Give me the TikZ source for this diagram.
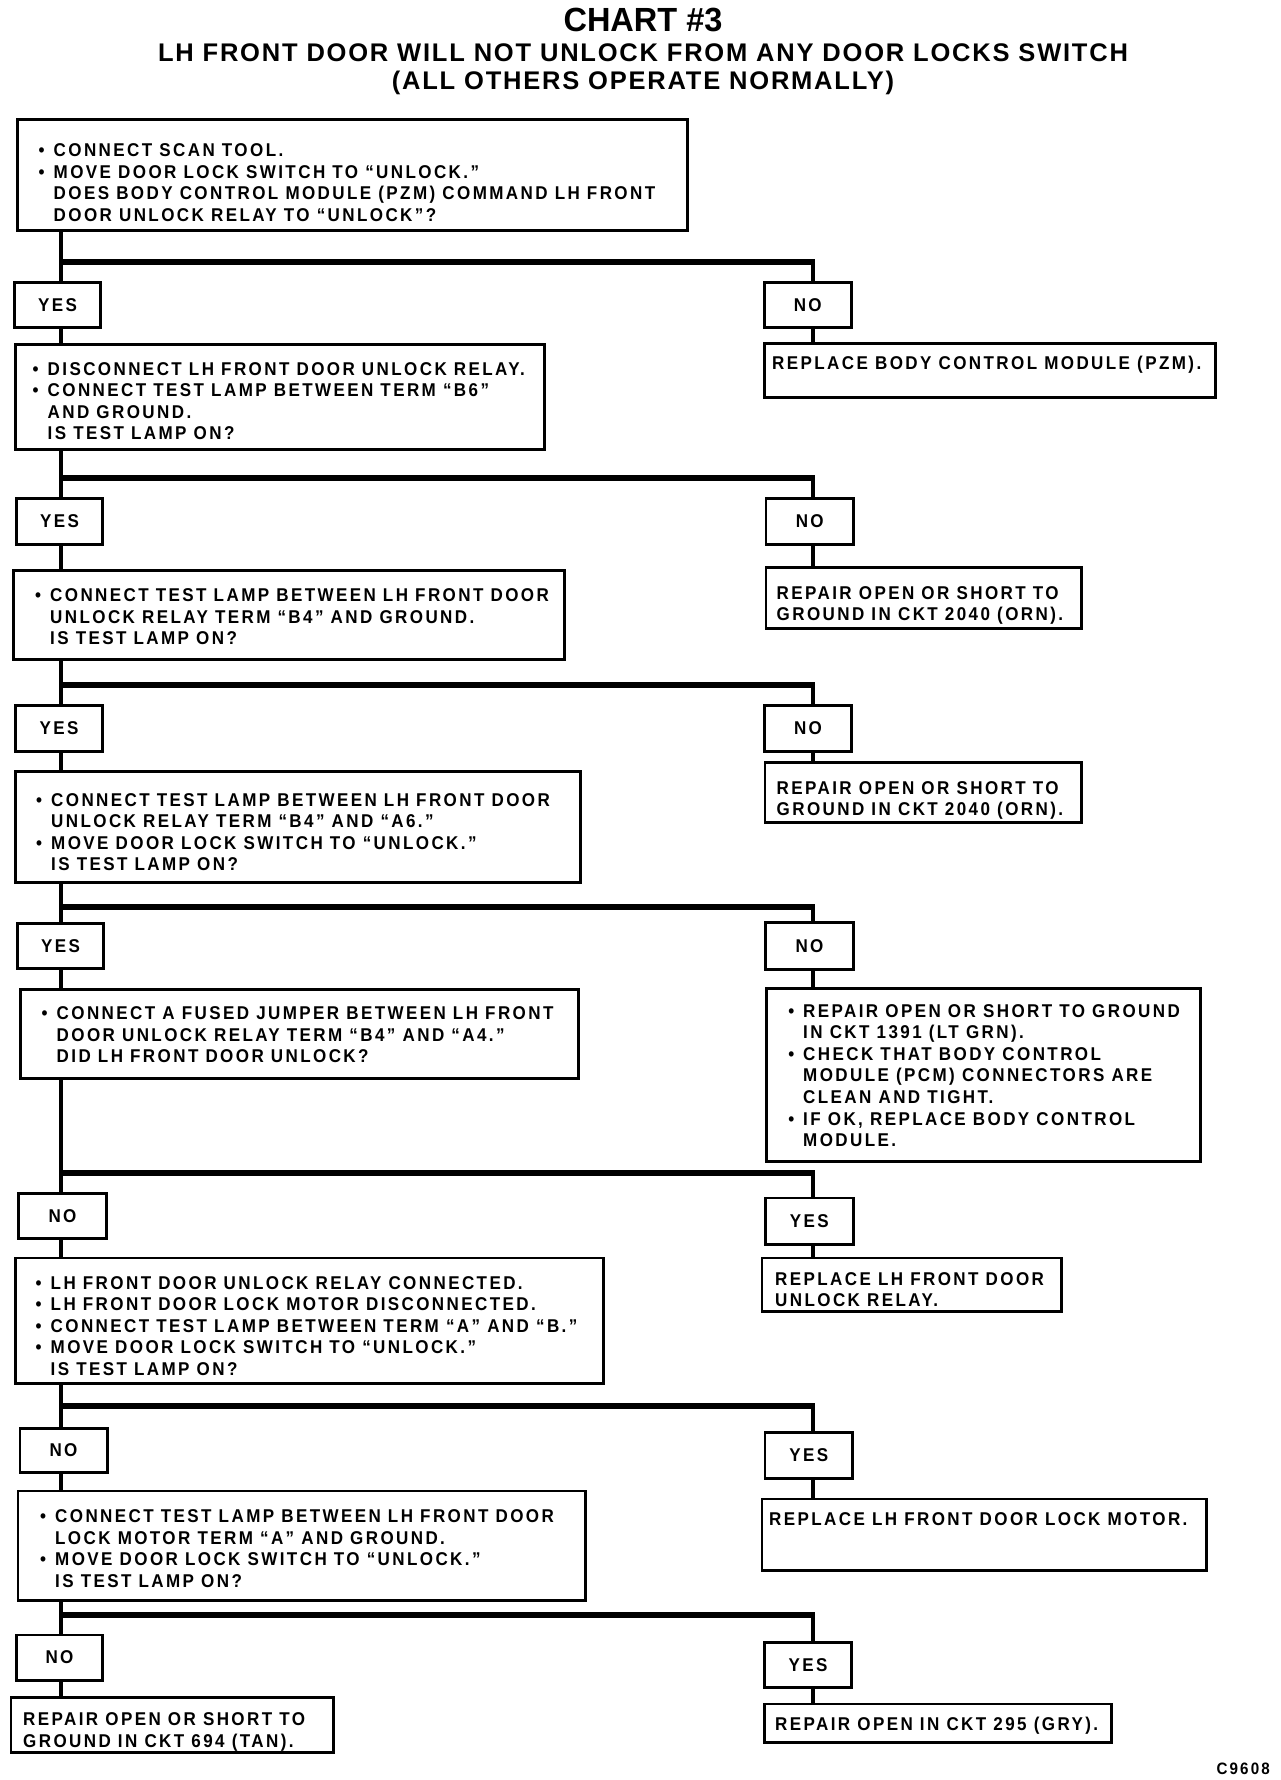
\documentclass[tikz,border=0pt]{standalone}
\usepackage{fontspec}
\setmainfont{Liberation Sans}
\newfontfamily\boxfont{Liberation Sans}[FakeStretch=0.92,LetterSpace=13]
\newfontfamily\subfont{Liberation Sans}[LetterSpace=7]
\newfontfamily\chartfont{Liberation Sans}[FakeStretch=0.97]
\usetikzlibrary{fit}
\newcommand\tx[1]{\begin{tabular}[t]{@{}l@{}}#1\end{tabular}}
\newcommand\bu{\llap{•\hspace{9pt}}}
\begin{document}
\begin{tikzpicture}[x=1pt,y=-1pt,
  boxst/.style={draw, line width=2.6pt, inner sep=-1.3pt, rectangle},
  txt/.style={inner sep=0pt, anchor=base west, font={\boxfont\bfseries\fontsize{18.5}{21.6}\selectfont}},
  lbl/.style={inner sep=0pt, font={\boxfont\bfseries\fontsize{18.5}{21.6}\selectfont}},
  conn/.style={line width=3.5pt},
  barst/.style={line width=6pt}]
\useasboundingbox (0,0) rectangle (1280,1780);
\fill[white] (0,0) rectangle (1280,1780);

% titles
\node[anchor=base, inner sep=0pt, font={\chartfont\bfseries\fontsize{33.5}{40}\selectfont}] (title) at (643,31) {CHART \#3};
\node[anchor=base, inner sep=0pt, font={\subfont\bfseries\fontsize{25.5}{30}\selectfont}] (sub1) at (643,61.5) {LH FRONT DOOR WILL NOT UNLOCK FROM ANY DOOR LOCKS SWITCH};
\node[anchor=base, inner sep=0pt, font={\subfont\bfseries\fontsize{25.5}{30}\selectfont}] (sub2) at (643,89.5) {(ALL OTHERS OPERATE NORMALLY)};

% trunk coordinates
\coordinate (tl) at (61,0);
\coordinate (tr) at (813,0);

% boxes
\node[boxst, fit={(15.9,118) (688.8,231.5)}] (q1) {};
\node[boxst, fit={(13,281) (102,329)}] (L1) {};
\node[boxst, fit={(763,281) (852.5,329)}] (R1) {};
\node[boxst, fit={(14,343) (545.5,451)}] (q2) {};
\node[boxst, fit={(763,342) (1217,399)}] (A1) {};

\node[boxst, fit={(15,497) (104,546)}] (L2) {};
\node[boxst, fit={(764.5,497) (855,546)}] (R2) {};
\node[boxst, fit={(12,569) (565.5,661)}] (q3) {};
\node[boxst, fit={(764.5,566) (1083,630)}] (A2) {};

\node[boxst, fit={(14,704) (104,752.5)}] (L3) {};
\node[boxst, fit={(763,704) (853,752.5)}] (R3) {};
\node[boxst, fit={(14,770) (582,884)}] (q4) {};
\node[boxst, fit={(763.5,761) (1083,824)}] (A3) {};

\node[boxst, fit={(16,922) (105,970)}] (L4) {};
\node[boxst, fit={(764,921) (855,971)}] (R4) {};
\node[boxst, fit={(19,988) (580,1080)}] (q5) {};
\node[boxst, fit={(765,987) (1202,1163)}] (A4) {};

\node[boxst, fit={(17,1192) (108,1240)}] (L5) {};
\node[boxst, fit={(764,1196.5) (854.5,1246)}] (R5) {};
\node[boxst, fit={(14,1256.5) (605,1385)}] (q6) {};
\node[boxst, fit={(760.5,1256.5) (1063,1312.5)}] (A5) {};

\node[boxst, fit={(18.5,1427) (108.5,1474)}] (L6) {};
\node[boxst, fit={(763.5,1431) (854,1480)}] (R6) {};
\node[boxst, fit={(16.5,1489.5) (586.5,1602)}] (q7) {};
\node[boxst, fit={(760.5,1497.5) (1208,1571.5)}] (A6) {};

\node[boxst, fit={(15,1633.5) (104,1681.5)}] (L7) {};
\node[boxst, fit={(763,1641) (853,1689)}] (R7) {};
\node[boxst, fit={(9.5,1696) (334.5,1754)}] (F) {};
\node[boxst, fit={(763,1702.5) (1113,1744)}] (A7) {};

% labels
\node[lbl] (L1t) at (L1.center) {YES};
\node[lbl] (R1t) at (R1.center) {NO};
\node[lbl] (L2t) at (L2.center) {YES};
\node[lbl] (R2t) at (R2.center) {NO};
\node[lbl] (L3t) at (L3.center) {YES};
\node[lbl] (R3t) at (R3.center) {NO};
\node[lbl] (L4t) at (L4.center) {YES};
\node[lbl] (R4t) at (R4.center) {NO};
\node[lbl] (L5t) at (L5.center) {NO};
\node[lbl] (R5t) at (R5.center) {YES};
\node[lbl] (L6t) at (L6.center) {NO};
\node[lbl] (R6t) at (R6.center) {YES};
\node[lbl] (L7t) at (L7.center) {NO};
\node[lbl] (R7t) at (R7.center) {YES};

% texts
\node[txt] (q1t) at (53.5,156.5) {\tx{\bu CONNECT SCAN TOOL.\\ \bu MOVE DOOR LOCK SWITCH TO “UNLOCK.”\\ DOES BODY CONTROL MODULE (PZM) COMMAND LH FRONT\\ DOOR UNLOCK RELAY TO “UNLOCK”?}};
\node[txt] (q2t) at (47.5,375) {\tx{\bu DISCONNECT LH FRONT DOOR UNLOCK RELAY.\\ \bu CONNECT TEST LAMP BETWEEN TERM “B6”\\ AND GROUND.\\ IS TEST LAMP ON?}};
\node[txt] (A1t) at (772,369) {\tx{REPLACE BODY CONTROL MODULE (PZM).}};
\node[txt] (q3t) at (50,601.5) {\tx{\bu CONNECT TEST LAMP BETWEEN LH FRONT DOOR\\ UNLOCK RELAY TERM “B4” AND GROUND.\\ IS TEST LAMP ON?}};
\node[txt] (A2t) at (776.5,599) {\tx{REPAIR OPEN OR SHORT TO\\ GROUND IN CKT 2040 (ORN).}};
\node[txt] (q4t) at (51,806) {\tx{\bu CONNECT TEST LAMP BETWEEN LH FRONT DOOR\\ UNLOCK RELAY TERM “B4” AND “A6.”\\ \bu MOVE DOOR LOCK SWITCH TO “UNLOCK.”\\ IS TEST LAMP ON?}};
\node[txt] (A3t) at (776.5,794) {\tx{REPAIR OPEN OR SHORT TO\\ GROUND IN CKT 2040 (ORN).}};
\node[txt] (q5t) at (56.5,1019.5) {\tx{\bu CONNECT A FUSED JUMPER BETWEEN LH FRONT\\ DOOR UNLOCK RELAY TERM “B4” AND “A4.”\\ DID LH FRONT DOOR UNLOCK?}};
\node[txt] (A4t) at (803,1017) {\tx{\bu REPAIR OPEN OR SHORT TO GROUND\\ IN CKT 1391 (LT GRN).\\ \bu CHECK THAT BODY CONTROL\\ MODULE (PCM) CONNECTORS ARE\\ CLEAN AND TIGHT.\\ \bu IF OK, REPLACE BODY CONTROL\\ MODULE.}};
\node[txt] (q6t) at (50.5,1289) {\tx{\bu LH FRONT DOOR UNLOCK RELAY CONNECTED.\\ \bu LH FRONT DOOR LOCK MOTOR DISCONNECTED.\\ \bu CONNECT TEST LAMP BETWEEN TERM “A” AND “B.”\\ \bu MOVE DOOR LOCK SWITCH TO “UNLOCK.”\\ IS TEST LAMP ON?}};
\node[txt] (A5t) at (775,1285) {\tx{REPLACE LH FRONT DOOR\\ UNLOCK RELAY.}};
\node[txt] (q7t) at (55,1522.5) {\tx{\bu CONNECT TEST LAMP BETWEEN LH FRONT DOOR\\ LOCK MOTOR TERM “A” AND GROUND.\\ \bu MOVE DOOR LOCK SWITCH TO “UNLOCK.”\\ IS TEST LAMP ON?}};
\node[txt] (A6t) at (769,1525) {\tx{REPLACE LH FRONT DOOR LOCK MOTOR.}};
\node[txt] (Ft) at (23,1725.5) {\tx{REPAIR OPEN OR SHORT TO\\ GROUND IN CKT 694 (TAN).}};
\node[txt] (A7t) at (775,1730) {\tx{REPAIR OPEN IN CKT 295 (GRY).}};

\node[anchor=base east, inner sep=0pt, font={\boxfont\bfseries\fontsize{16.5}{18}\selectfont}] (code) at (1270,1774) {C9608};

% bar coordinates
\coordinate (b1l) at (59.25,261.5);  \coordinate (b1r) at (814.75,261.5);
\coordinate (b2l) at (59.25,477.5);  \coordinate (b2r) at (814.75,477.5);
\coordinate (b3l) at (59.25,685);    \coordinate (b3r) at (814.75,685);
\coordinate (b4l) at (59.25,907);    \coordinate (b4r) at (814.75,907);
\coordinate (b5l) at (59.25,1173);   \coordinate (b5r) at (814.75,1173);
\coordinate (b6l) at (59.25,1405.5); \coordinate (b6r) at (814.75,1405.5);
\coordinate (b7l) at (59.25,1615);   \coordinate (b7r) at (814.75,1615);

% connectors
\foreach \q/\b/\l/\r/\n/\a in {q1/b1/L1/R1/q2/A1, q2/b2/L2/R2/q3/A2, q3/b3/L3/R3/q4/A3, q4/b4/L4/R4/q5/A4, q5/b5/L5/R5/q6/A5, q6/b6/L6/R6/q7/A6, q7/b7/L7/R7/F/A7}{
  \draw[conn] (\q.south -| tl) -- (\l.north -| tl);
  \draw[barst] (\b l) -- (\b r);
  \draw[conn] (\b r -| tr) -- (\r.north -| tr);
  \draw[conn] (\l.south -| tl) -- (\n.north -| tl);
  \draw[conn] (\r.south -| tr) -- (\a.north -| tr);
}
\end{tikzpicture}
\end{document}
